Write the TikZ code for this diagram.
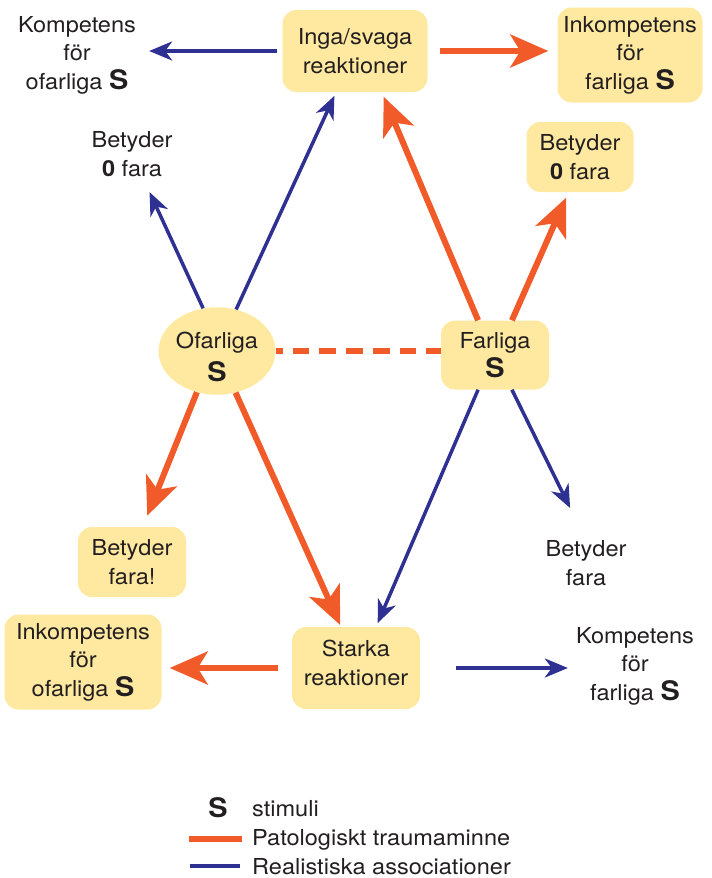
\documentclass[tikz,border=0pt]{standalone}
\usepackage{fontspec}
\setmainfont{TeX Gyre Heros}[FakeStretch=1.07]
\usetikzlibrary{arrows.meta,shapes.geometric}
\definecolor{boxfill}{HTML}{FFE9A0}
\definecolor{patol}{HTML}{F15A29}
\definecolor{realc}{HTML}{2E3192}
\definecolor{txt}{HTML}{231F20}
\newcommand{\stim}{{\fontsize{27}{27}\selectfont\bfseries S}}

\begin{document}
\begin{tikzpicture}[x=1pt,y=-1pt,
  lbl/.style={font=\fontsize{22}{28.5}\selectfont,text=txt,align=center,inner sep=0pt},
  box/.style={lbl,fill=boxfill,rounded corners=14pt,inner sep=4pt},
  patarr/.style={draw=patol,line width=6pt,-{Stealth[length=38pt,width=33pt,inset=10pt]}},
  realarr/.style={draw=realc,line width=3.5pt,-{Stealth[length=23pt,width=19pt,inset=7pt]}}]
\useasboundingbox (0,0) rectangle (712,878);
% boxes and labels
\node[box,minimum width=145,minimum height=82] (inga) at (355,51) {Inga/svaga\\reaktioner};
\node[box,minimum width=145,minimum height=95] (inkf) at (630,55) {Inkompetens\\för\\farliga \stim};
\node[lbl] (kompo) at (77,55) {Kompetens\\för\\ofarliga \stim};
\node[lbl] (noll1) at (132,154) {Betyder\\\textbf{0} fara};
\node[box,minimum width=107,minimum height=70] (noll2) at (580,157) {Betyder\\\textbf{0} fara};
\node[lbl,ellipse,fill=boxfill,minimum width=117,minimum height=86] (ofar) at (217,351) {\rule{0pt}{28pt}Ofarliga\\[5pt]\stim};
\node[box,minimum width=108,minimum height=69] (farl) at (495,355) {Farliga\\\stim};
\node[box,minimum width=108,minimum height=70] (fara1) at (132,562) {Betyder\\fara!};
\node[box,minimum width=157,minimum height=95] (inko) at (83,662) {Inkompetens\\för\\ofarliga \stim};
\node[box,minimum width=128,minimum height=82] (stark) at (356,668) {Starka\\reaktioner\rule[-10pt]{0pt}{10pt}};
\node[lbl] (fara2) at (586,563) {Betyder\\fara};
\node[lbl] (kompf) at (635,666) {Kompetens\\för\\farliga \stim};
% realistic associations
\draw[realarr,shorten <=5pt,shorten >=13pt] (inga.west) -- (inga.west -| kompo.east);
\draw[realarr,shorten >=4pt] (ofar) -- (inga);
\draw[realarr,shorten >=17pt] (ofar.108) -- (noll1);
\draw[realarr,shorten >=4pt] (farl.-116) -- (stark.64);
\draw[realarr,shorten >=36pt] (farl.-64) -- (fara2.north);
\draw[realarr,shorten <=36pt,shorten >=8pt] (stark.east) -- (stark.east -| kompf.west);
% pathological trauma memory
\draw[patarr,shorten <=12pt,shorten >=9pt] (inga.east) -- (inga.east -| inkf.west);
\draw[patarr,shorten >=5pt] (farl.116) -- (inga.-57);
\draw[patarr,shorten >=6pt] (farl.64) -- (noll2.-108);
\draw[patarr,shorten >=12pt] (ofar.-116) -- (fara1.73);
\draw[patarr,shorten >=2pt] (ofar.-66) -- (stark.110);
\draw[patarr,shorten <=14pt,shorten >=8pt] (stark.west) -- (stark.west -| inko.east);
\draw[draw=patol,line width=6pt,dash pattern=on 16.7pt off 10pt,dash phase=9.7pt] (ofar.east) -- (ofar.east -| farl.west);
% legend
\node[lbl,anchor=base] (legS) at (218,817) {\stim};
\node[lbl,anchor=base west] (leg1) at (252,816) {stimuli};
\node[lbl,anchor=base west] (leg2) at (252,845) {Patologiskt traumaminne};
\node[lbl,anchor=base west] (leg3) at (252,874) {Realistiska associationer};
\draw[draw=patol,line width=6pt] ([xshift=-10pt]leg2.west) -- ++(-53,0);
\draw[draw=realc,line width=3.5pt] ([xshift=-12pt]leg3.west) -- ++(-50,0);
\end{tikzpicture}
\end{document}
